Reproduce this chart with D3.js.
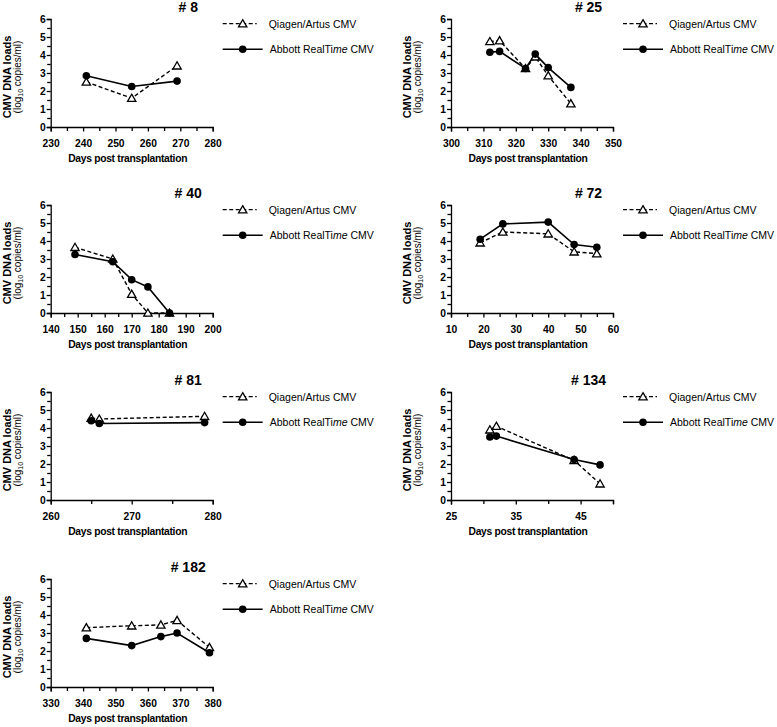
<!DOCTYPE html>
<html>
<head>
<meta charset="utf-8">
<script src="https://cdn.jsdelivr.net/npm/d3@7"></script>
<style>
  html, body { margin: 0; padding: 0; background: #fff; }
  svg { display: block; font-family: "Liberation Sans", Arial, sans-serif; }
</style>
</head>
<body>
<svg id="chart" width="777" height="727"></svg>
<script>
// ---------------- data ----------------
const patients = ["# 8", "# 25", "# 40", "# 72", "# 81", "# 134", "# 182"];
const xDomains = [[230, 280], [300, 350], [140, 200], [10, 60], [260, 280], [25, 50], [330, 380]];
const xTickLabels = [
  [230, 240, 250, 260, 270, 280],
  [300, 310, 320, 330, 340, 350],
  [140, 150, 160, 170, 180, 190, 200],
  [10, 20, 30, 40, 50, 60],
  [260, 270, 280],
  [25, 35, 45],
  [330, 340, 350, 360, 370, 380]
];
const days = [
  [241, 255, 269],
  [312, 315, 323, 326, 330, 337],
  [149, 163, 170, 176, 184],
  [19, 26, 40, 48, 55],
  [265, 266, 279],
  [31, 32, 44, 48],
  [341, 355, 364, 369, 379]
];
const qiagen = [
  [2.5, 1.6, 3.4],
  [4.75, 4.8, 3.25, 3.9, 2.85, 1.3],
  [3.65, 3.0, 1.05, 0, 0],
  [3.9, 4.5, 4.4, 3.4, 3.3],
  [4.55, 4.5, 4.65],
  [3.9, 4.1, 2.2, 0.9],
  [3.3, 3.4, 3.45, 3.7, 2.2]
];
const abbott = [
  [2.85, 2.25, 2.55],
  [4.15, 4.2, 3.25, 4.05, 3.3, 2.2],
  [3.25, 2.85, 1.85, 1.45, 0],
  [4.1, 4.95, 5.05, 3.8, 3.65],
  [4.4, 4.25, 4.3],
  [3.5, 3.55, 2.25, 1.95],
  [2.7, 2.3, 2.8, 3.0, 1.9]
];
const yMajorTicks = [0, 1, 2, 3, 4, 5, 6];
const seriesNames = ["Qiagen/Artus CMV", "Abbott RealTime CMV"];

// ---------------- layout ----------------
const svg = d3.select("#chart");
const colX = [50.7, 451];
const rowTop = [19, 205, 392, 579];
const W = 162, H = 108;
const FONT = "'Liberation Sans', Arial, sans-serif";

const triangle = d3.symbol().type(d3.symbolTriangle).size(30);

patients.forEach((name, i) => {
  const ax = colX[i % 2];
  const top = rowTop[Math.floor(i / 2)];
  const g = svg.append("g").attr("transform", `translate(${ax},${top})`);

  const x = d3.scaleLinear().domain(xDomains[i]).range([0, W]);
  const y = d3.scaleLinear().domain([0, 6]).range([H, 0]);

  // y minor ticks
  const yMinor = d3.range(0, 6.01, 0.5).filter(v => !yMajorTicks.includes(v));
  g.append("g")
    .call(d3.axisLeft(y).tickValues(yMinor).tickSize(3.5).tickFormat(""))
    .call(s => s.select(".domain").remove());
  // y major
  g.append("g")
    .call(d3.axisLeft(y).tickValues(yMajorTicks).tickSize(4).tickPadding(1).tickFormat(d3.format("d")));
  // x minor/major ticks every 5
  const [x0, x1] = xDomains[i];
  const xAll = d3.range(x0, x1 + 0.01, 5);
  const xMinor = xAll.filter(v => !xTickLabels[i].includes(v));
  g.append("g").attr("transform", `translate(0,${H})`)
    .call(d3.axisBottom(x).tickValues(xMinor).tickSize(4).tickFormat(""))
    .call(s => s.select(".domain").remove());
  g.append("g").attr("transform", `translate(0,${H})`)
    .call(d3.axisBottom(x).tickValues(xTickLabels[i]).tickSize(4.5).tickPadding(8).tickFormat(d3.format("d")));

  g.selectAll(".domain, .tick line").attr("stroke", "#000").attr("stroke-width", 1.3);
  g.selectAll(".tick text").attr("font-family", FONT).attr("font-size", 10.3)
    .attr("font-weight", "bold").attr("fill", "#000");

  // axis titles
  g.append("text")
    .attr("x", W / 2 - 4).attr("y", H + 35)
    .attr("text-anchor", "middle")
    .attr("font-family", FONT).attr("font-size", 10.3).attr("font-weight", "bold")
    .attr("letter-spacing", -0.3)
    .text("Days post transplantation");

  g.append("text")
    .attr("transform", `translate(-40,${H / 2 + 4}) rotate(-90)`)
    .attr("text-anchor", "middle")
    .attr("font-family", FONT).attr("font-size", 11).attr("font-weight", "bold")
    .text("CMV DNA loads");
  const t2 = g.append("text")
    .attr("transform", `translate(-30,${H / 2 + 4}) rotate(-90)`)
    .attr("text-anchor", "middle")
    .attr("font-family", FONT).attr("font-size", 10);
  t2.append("tspan").text("(log");
  t2.append("tspan").attr("font-size", 7).attr("dy", 2).text("10");
  t2.append("tspan").attr("dy", -2).text(" copies/ml)");

  // title
  g.append("text")
    .attr("x", 137.5).attr("y", -7.3)
    .attr("text-anchor", "middle")
    .attr("font-family", FONT).attr("font-size", 14).attr("font-weight", "bold")
    .text(name);

  // data
  const qData = days[i].map((d, k) => [d, qiagen[i][k]]);
  const aData = days[i].map((d, k) => [d, abbott[i][k]]);
  const line = d3.line().x(d => x(d[0])).y(d => y(d[1]));

  g.append("path").datum(qData).attr("d", line)
    .attr("fill", "none").attr("stroke", "#000").attr("stroke-width", 1.4)
    .attr("stroke-dasharray", "4,2.5");
  g.append("path").datum(aData).attr("d", line)
    .attr("fill", "none").attr("stroke", "#000").attr("stroke-width", 1.6);

  g.selectAll(".tri").data(qData).enter().append("path")
    .attr("d", triangle)
    .attr("transform", d => `translate(${x(d[0])},${y(d[1]) + 0.8})`)
    .attr("fill", "#fff").attr("stroke", "#000").attr("stroke-width", 1.3);
  g.selectAll(".dot").data(aData).enter().append("circle")
    .attr("cx", d => x(d[0])).attr("cy", d => y(d[1])).attr("r", 3.8)
    .attr("fill", "#000");

  // legend
  const lg = g.append("g");
  const ly1 = 4.7, ly2 = 30.3;
  lg.append("line").attr("x1", 172).attr("x2", 206).attr("y1", ly1).attr("y2", ly1)
    .attr("stroke", "#000").attr("stroke-width", 1.3).attr("stroke-dasharray", "4,2.5");
  lg.append("path").attr("d", triangle)
    .attr("transform", `translate(192,${ly1 + 0.8})`)
    .attr("fill", "#fff").attr("stroke", "#000").attr("stroke-width", 1.3);
  lg.append("text").attr("x", 218).attr("y", ly1 + 3.8)
    .attr("font-family", FONT).attr("font-size", 10.5).text(seriesNames[0]);

  lg.append("line").attr("x1", 172).attr("x2", 212).attr("y1", ly2).attr("y2", ly2)
    .attr("stroke", "#000").attr("stroke-width", 1.5);
  lg.append("circle").attr("cx", 192).attr("cy", ly2).attr("r", 3.8).attr("fill", "#000");
  const at = lg.append("text").attr("x", 219).attr("y", ly2 + 3.8)
    .attr("font-family", FONT).attr("font-size", 10.5);
  at.append("tspan").text("Abbott RealTi");
  at.append("tspan").attr("font-style", "italic").text("me");
  at.append("tspan").text(" CMV");
});
</script>
</body>
</html>
